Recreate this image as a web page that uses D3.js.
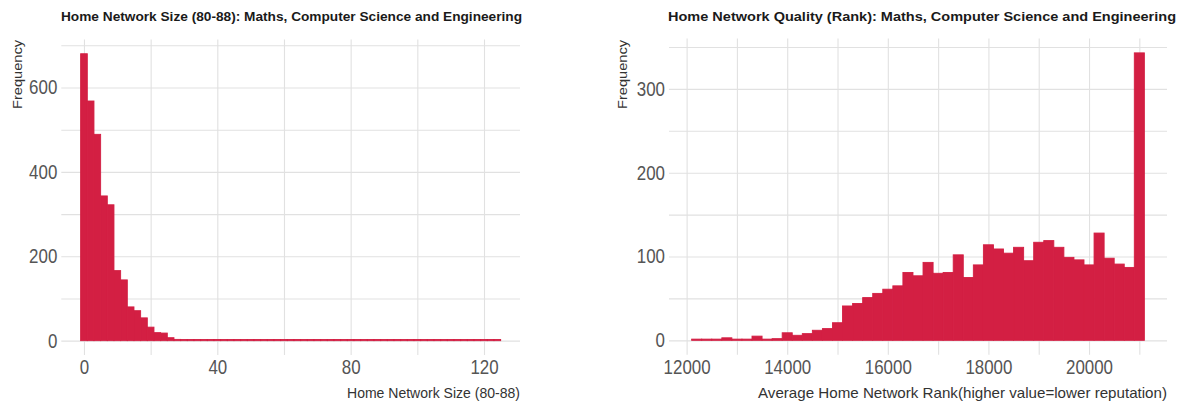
<!DOCTYPE html>
<html>
<head>
<meta charset="utf-8">
<script src="https://cdn.jsdelivr.net/npm/d3@7"></script>
<style>
  body { margin: 0; background: #fff; }
  svg { display: block; font-family: "Liberation Sans", Arial, sans-serif; }
  .grid line { stroke: #e1e1e1; stroke-width: 1.1; }
  .grid .domain { display: none; }
  .labels .domain { display: none; }
  .labels text { fill: #555; font-size: 20px; }
</style>
</head>
<body>
<div id="chart"></div>
<script>
// left panel: network size histogram, bins of width 2 centred on 0, 2, 4, ...
const sizeBinStart = 0;
const sizeBinWidth = 2;
const sizeCounts = [
  680, 568, 489, 343, 322, 166, 144, 80, 71, 54, 32, 19, 18, 7, 3, 2, 1,
  1, 0, 1, 0, 0, 1, 0, 0, 0, 1, 0, 0, 0, 0, 1, 0, 0, 0, 0, 0, 1, 0, 0, 0,
  0, 0, 0, 1, 0, 0, 0, 0, 0, 0, 0, 0, 0, 0, 0, 0, 0, 0, 0, 0, 0, 1
];
const sizeYTicks = [0, 200, 400, 600];
const sizeXTicks = [0, 40, 80, 120];

// right panel: network rank histogram, bins of width 200 centred on 12200 ... 21000
const rankBinStart = 12200;
const rankBinWidth = 200;
const rankCounts = [
  1, 1, 1, 3, 1, 1, 5, 0, 2, 9, 6, 8, 12, 14, 21, 41, 44, 51, 56, 61, 65,
  81, 77, 93, 80, 81, 102, 75, 90, 114, 109, 104, 111, 95, 117, 119, 111,
  99, 96, 90, 128, 98, 91, 87, 343
];
const rankYTicks = [0, 100, 200, 300];
const rankXTicks = [12000, 14000, 16000, 18000, 20000];

const barColor = "#d31f43";

const svg = d3.select("#chart")
  .append("svg")
  .attr("width", 1183)
  .attr("height", 405);

class HistogramPanel {
  constructor(svg, opts) {
    this.svg = svg;
    this.opts = opts;

    this.x = d3.scaleLinear().domain(opts.xDomain).range([opts.left, opts.right]);
    this.y = d3.scaleLinear().domain(opts.yDomain).range([opts.bottom, opts.top]);

    this.drawGrid();
    this.drawBars();
    this.drawLabels();
  }

  drawGrid() {
    const o = this.opts;
    this.svg.append("g")
      .attr("class", "grid")
      .attr("transform", `translate(${o.left},0)`)
      .call(d3.axisLeft(this.y).tickValues(o.hGrid).tickSize(-(o.right - o.left)).tickFormat(""));

    this.svg.append("g")
      .attr("class", "grid")
      .attr("transform", `translate(0,${o.bottom})`)
      .call(d3.axisBottom(this.x).tickValues(o.vGrid).tickSize(-(o.bottom - o.top)).tickFormat(""));
  }

  drawBars() {
    const o = this.opts;
    const y0 = this.y(0);
    const bins = o.counts.map((c, i) => ({ mid: o.binStart + i * o.binWidth, count: c }));

    this.svg.append("g")
      .selectAll("rect")
      .data(bins)
      .enter().append("rect")
      .attr("x", d => this.x(d.mid - o.binWidth / 2))
      .attr("width", d => this.x(d.mid + o.binWidth / 2) - this.x(d.mid - o.binWidth / 2))
      .attr("y", d => y0 - Math.max(1.2, y0 - this.y(d.count)))
      .attr("height", d => Math.max(1.2, y0 - this.y(d.count)))
      .attr("fill", barColor)
      .attr("stroke", barColor)
      .attr("stroke-width", 0.9);
  }

  drawLabels() {
    const o = this.opts;
    const digitW = 9.4; // labels look horizontally squeezed in the original

    const yAxis = this.svg.append("g")
      .attr("class", "labels")
      .attr("transform", `translate(${o.left - 4},0)`)
      .call(d3.axisLeft(this.y).tickValues(o.yTicks).tickSize(0).tickPadding(0).tickFormat(d3.format("d")));
    yAxis.selectAll("text")
      .attr("textLength", d => String(d).length * digitW)
      .attr("lengthAdjust", "spacingAndGlyphs");

    const xAxis = this.svg.append("g")
      .attr("class", "labels")
      .attr("transform", `translate(0,${o.bottom})`)
      .call(d3.axisBottom(this.x).tickValues(o.xTicks).tickSize(0).tickPadding(5).tickFormat(d3.format("d")));
    xAxis.selectAll("text")
      .attr("textLength", d => String(d).length * digitW)
      .attr("lengthAdjust", "spacingAndGlyphs");

    this.svg.append("text")
      .attr("x", o.titleX)
      .attr("y", 21)
      .attr("font-size", 13)
      .attr("font-weight", "bold")
      .attr("fill", "#1a1a1a")
      .attr("textLength", o.titleW)
      .attr("lengthAdjust", "spacingAndGlyphs")
      .text(o.title);

    this.svg.append("text")
      .attr("transform", `translate(${o.yLabelX},40) rotate(-90)`)
      .attr("text-anchor", "end")
      .attr("font-size", 13.5)
      .attr("fill", "#333")
      .attr("textLength", 69)
      .attr("lengthAdjust", "spacingAndGlyphs")
      .text("Frequency");

    this.svg.append("text")
      .attr("x", o.right)
      .attr("y", 398)
      .attr("text-anchor", "end")
      .attr("font-size", 14.5)
      .attr("fill", "#333")
      .attr("textLength", o.xLabelW)
      .attr("lengthAdjust", "spacingAndGlyphs")
      .text(o.xLabel);
  }
}

new HistogramPanel(svg, {
  left: 61.3, right: 520, top: 39.4, bottom: 355,
  xDomain: [-6.8, 130.8], yDomain: [-34, 714],
  hGrid: [0, 100, 200, 300, 400, 500, 600, 700],
  vGrid: [0, 20, 40, 60, 80, 100, 120],
  yTicks: sizeYTicks, xTicks: sizeXTicks,
  counts: sizeCounts, binStart: sizeBinStart, binWidth: sizeBinWidth,
  title: "Home Network Size (80-88): Maths, Computer Science and Engineering",
  titleX: 61, titleW: 461,
  xLabel: "Home Network Size (80-88)", xLabelW: 173,
  yLabelX: 21.5
});

new HistogramPanel(svg, {
  left: 669, right: 1167, top: 38.5, bottom: 354.7,
  xDomain: [11650, 21550], yDomain: [-17.15, 360.15],
  hGrid: [0, 50, 100, 150, 200, 250, 300, 350],
  vGrid: [12000, 13000, 14000, 15000, 16000, 17000, 18000, 19000, 20000, 21000],
  yTicks: rankYTicks, xTicks: rankXTicks,
  counts: rankCounts, binStart: rankBinStart, binWidth: rankBinWidth,
  title: "Home Network Quality (Rank): Maths, Computer Science and Engineering",
  titleX: 668, titleW: 508,
  xLabel: "Average Home Network Rank(higher value=lower reputation)", xLabelW: 409,
  yLabelX: 627
});
</script>
</body>
</html>
